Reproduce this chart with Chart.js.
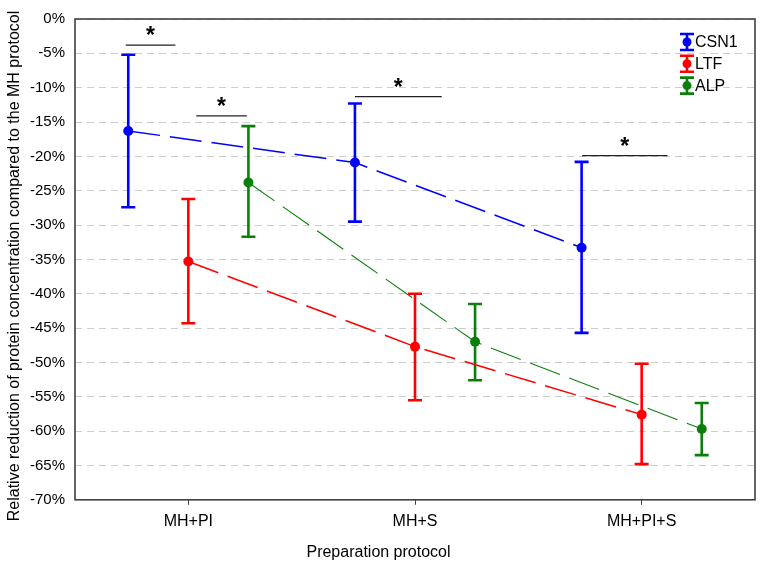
<!DOCTYPE html>
<html>
<head>
<meta charset="utf-8">
<title>Relative reduction of protein concentration</title>
<script src="https://cdn.jsdelivr.net/npm/chart.js@4.4.1/dist/chart.umd.min.js"></script>
<style>
  html, body { margin: 0; padding: 0; background: #fff; }
  canvas { display: block; }
</style>
</head>
<body>
<canvas id="protein-chart" width="760" height="565"></canvas>
<script>
// Categories on the x axis
const categories = ['MH+PI', 'MH+S', 'MH+PI+S'];
const yTickValues = [0, -5, -10, -15, -20, -25, -30, -35, -40, -45, -50, -55, -60, -65, -70];

// Mean relative reduction (%) and error bar ends for each protein
const csn1Mean = [-16.3, -20.9, -33.3];
const csn1Hi = [-5.2, -12.3, -20.8];
const csn1Lo = [-27.4, -29.5, -45.7];

const ltfMean = [-35.3, -47.7, -57.6];
const ltfHi = [-26.2, -40.0, -50.2];
const ltfLo = [-44.3, -55.5, -64.8];

const alpMean = [-23.8, -47.0, -59.7];
const alpHi = [-15.6, -41.5, -55.9];
const alpLo = [-31.7, -52.6, -63.5];

// Significance bars (x in category units, y in %)
const sigStart = [0.724, 1.035, 1.735, 2.737];
const sigEnd = [0.943, 1.258, 2.118, 3.114];
const sigLevel = [-3.8, -14.1, -11.3, -19.9];

document.addEventListener('DOMContentLoaded', function() {
    const ctx = document.getElementById('protein-chart').getContext('2d');
    const fontFamily = '"Liberation Sans", Arial, sans-serif';
    Chart.defaults.font.family = fontFamily;
    Chart.defaults.color = '#000';

    // horizontal shift of each series inside a category
    const dodge = [-0.265, 0, 0.265];

    function toPoints(means, k) {
        return means.map((m, i) => ({ x: i + 1 + dodge[k], y: m }));
    }

    function seriesDataset(label, means, hi, lo, k, color, width) {
        return {
            label: label,
            data: toPoints(means, k),
            errHi: hi,
            errLo: lo,
            borderColor: color,
            backgroundColor: color,
            borderWidth: width,
            borderDash: [32, 10],
            pointRadius: 5,
            pointBorderWidth: 0,
            pointBackgroundColor: color,
            tension: 0
        };
    }

    // significance bars as short line pieces broken by nulls
    const sigData = [];
    sigStart.forEach((s, i) => {
        sigData.push({ x: s, y: sigLevel[i] });
        sigData.push({ x: sigEnd[i], y: sigLevel[i] });
        sigData.push({ x: sigEnd[i], y: null });
    });

    // Error bars drawn right after each series
    const errorBarPlugin = {
        id: 'errorBars',
        afterDatasetDraw(chart, args) {
            const ds = chart.data.datasets[args.index];
            if (!ds.errHi) return;
            const yScale = chart.scales.y;
            const c = chart.ctx;
            c.save();
            c.strokeStyle = ds.borderColor;
            c.lineWidth = 2.6;
            c.setLineDash([]);
            args.meta.data.forEach((pt, i) => {
                const yh = yScale.getPixelForValue(ds.errHi[i]);
                const yl = yScale.getPixelForValue(ds.errLo[i]);
                c.beginPath();
                c.moveTo(pt.x, yh);
                c.lineTo(pt.x, yl);
                c.moveTo(pt.x - 7, yh);
                c.lineTo(pt.x + 7, yh);
                c.moveTo(pt.x - 7, yl);
                c.lineTo(pt.x + 7, yl);
                c.stroke();
            });
            c.restore();
        }
    };

    // Frame around the plot area
    const framePlugin = {
        id: 'frame',
        beforeDatasetsDraw(chart) {
            const a = chart.chartArea;
            const c = chart.ctx;
            c.save();
            c.strokeStyle = '#404040';
            c.lineWidth = 1.6;
            c.strokeRect(a.left, a.top, a.right - a.left, a.bottom - a.top);
            c.restore();
        }
    };

    // Stars over significance bars, legend and y title
    const annotatePlugin = {
        id: 'annotate',
        afterDraw(chart) {
            const c = chart.ctx;
            const xs = chart.scales.x;
            const ys = chart.scales.y;
            const a = chart.chartArea;
            c.save();

            c.fillStyle = '#000';
            c.font = 'bold 23px ' + fontFamily;
            c.textAlign = 'center';
            c.textBaseline = 'middle';
            sigStart.forEach((s, i) => {
                const x = xs.getPixelForValue((s + sigEnd[i]) / 2);
                const y = ys.getPixelForValue(sigLevel[i]);
                c.fillText('*', x, y - 8);
            });

            // legend with error bar icons
            const items = chart.data.datasets.filter(d => d.errHi);
            c.font = '16px ' + fontFamily;
            c.textAlign = 'left';
            items.forEach((d, i) => {
                const ix = a.right - 68;
                const iy = a.top + 23 + i * 21.8;
                c.strokeStyle = d.borderColor;
                c.fillStyle = d.borderColor;
                c.lineWidth = 2.6;
                c.beginPath();
                c.moveTo(ix, iy - 8); c.lineTo(ix, iy + 8);
                c.moveTo(ix - 7, iy - 8); c.lineTo(ix + 7, iy - 8);
                c.moveTo(ix - 7, iy + 8); c.lineTo(ix + 7, iy + 8);
                c.stroke();
                c.beginPath();
                c.arc(ix, iy, 4.5, 0, Math.PI * 2);
                c.fill();
                c.fillStyle = '#000';
                c.fillText(d.label, ix + 8, iy + 1);
            });

            // y axis title
            c.translate(15, 266);
            c.rotate(-Math.PI / 2);
            c.font = '16px ' + fontFamily;
            c.textAlign = 'center';
            c.fillStyle = '#000';
            c.fillText('Relative reduction of protein concentration compared to the MH protocol', 0, 0);
            c.restore();
        }
    };

    new Chart(ctx, {
        type: 'line',
        data: {
            datasets: [
                seriesDataset('CSN1', csn1Mean, csn1Hi, csn1Lo, 0, '#0000ff', 1.5),
                seriesDataset('LTF', ltfMean, ltfHi, ltfLo, 1, '#ff0000', 1.5),
                seriesDataset('ALP', alpMean, alpHi, alpLo, 2, '#0a800a', 1.1),
                {
                    label: 'sig',
                    data: sigData,
                    borderColor: '#222',
                    borderWidth: 1.2,
                    pointRadius: 0,
                    spanGaps: false
                }
            ]
        },
        options: {
            responsive: false,
            animation: false,
            layout: { padding: { top: 8, right: 3, left: 0, bottom: 0 } },
            plugins: {
                legend: { display: false },
                tooltip: { enabled: false },
                title: {
                    display: true,
                    position: 'bottom',
                    text: 'Preparation protocol',
                    color: '#000',
                    font: { size: 16, weight: 'normal' },
                    padding: { top: 0, bottom: 3 }
                }
            },
            scales: {
                x: {
                    type: 'linear',
                    min: 0.5,
                    max: 3.5,
                    afterBuildTicks: (scale) => {
                        scale.ticks = categories.map((c, i) => ({ value: i + 1 }));
                    },
                    afterFit: (scale) => { scale.height = 43; },
                    ticks: {
                        callback: (value) => categories[Math.round(value) - 1],
                        font: { size: 16 },
                        color: '#000',
                        padding: 7,
                        maxRotation: 0
                    },
                    grid: {
                        drawOnChartArea: false,
                        drawTicks: true,
                        tickLength: 5,
                        color: '#404040'
                    },
                    border: { display: false }
                },
                y: {
                    min: -70,
                    max: 0,
                    afterBuildTicks: (scale) => {
                        scale.ticks = yTickValues.map(v => ({ value: v }));
                    },
                    afterFit: (scale) => { scale.width = 75; },
                    ticks: {
                        callback: (value) => value + '%',
                        font: { size: 15 },
                        color: '#000',
                        padding: 10
                    },
                    grid: {
                        drawTicks: false,
                        color: '#cccccc',
                        lineWidth: 1
                    },
                    border: { display: false, dash: [7, 5] }
                }
            }
        },
        plugins: [framePlugin, errorBarPlugin, annotatePlugin]
    });
});
</script>
</body>
</html>
